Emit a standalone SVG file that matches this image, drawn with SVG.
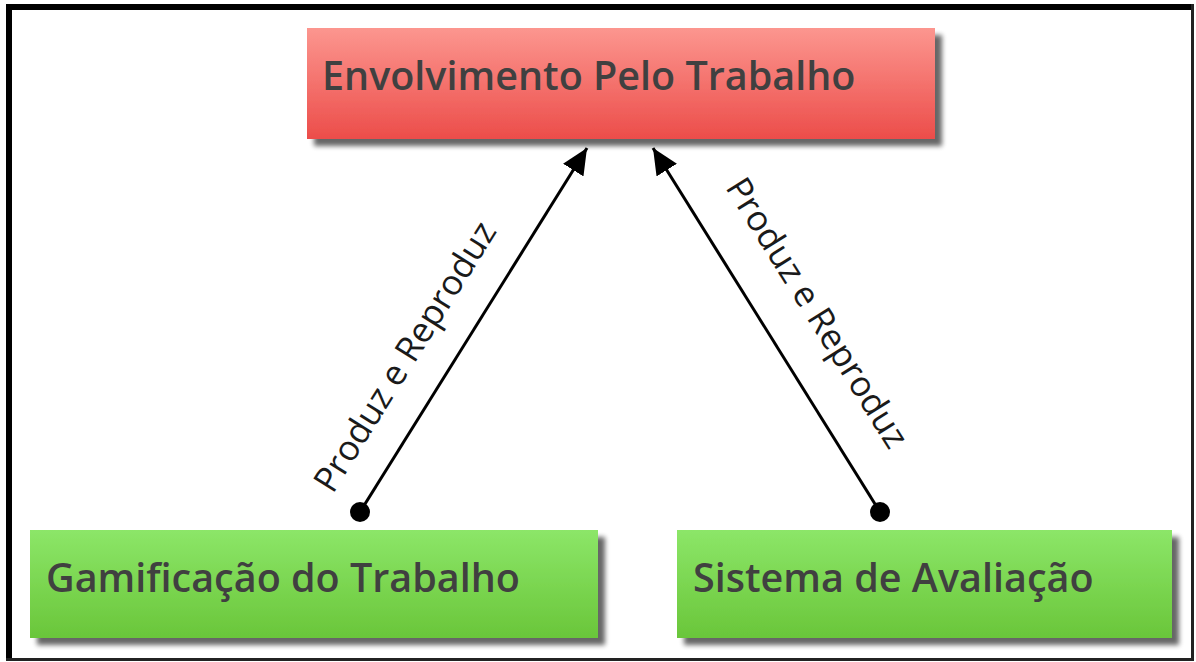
<svg xmlns="http://www.w3.org/2000/svg" width="1196" height="662" viewBox="0 0 1196 662">
<defs>
<linearGradient id="gRed" x1="0" y1="0" x2="0" y2="1"><stop offset="0" stop-color="#fc968f"/><stop offset="1" stop-color="#ec4d4a"/></linearGradient>
<linearGradient id="gGreen" x1="0" y1="0" x2="0" y2="1"><stop offset="0" stop-color="#8ce668"/><stop offset="1" stop-color="#6ac63a"/></linearGradient>
<filter id="sh" x="-5%" y="-10%" width="115%" height="130%"><feGaussianBlur in="SourceAlpha" stdDeviation="2.5"/><feOffset dx="7" dy="7"/><feComponentTransfer><feFuncA type="linear" slope="0.6"/></feComponentTransfer><feMerge><feMergeNode/><feMergeNode in="SourceGraphic"/></feMerge></filter>
<marker id="arrow" markerWidth="26" markerHeight="24" refX="26" refY="12" orient="auto" markerUnits="userSpaceOnUse"><path d="M0,0 L26,12 L0,24 z" fill="#000"/></marker>
<marker id="dot" markerWidth="22" markerHeight="22" refX="11" refY="11" markerUnits="userSpaceOnUse"><circle cx="11" cy="11" r="10" fill="#000"/></marker>
</defs>
<style>
.node text{font-family:"Open Sans","Noto Sans","DejaVu Sans",sans-serif;font-weight:600;font-size:39.5px;fill:#404040}
.lbl{font-family:"Open Sans","Noto Sans","DejaVu Sans",sans-serif;font-size:35px;fill:#1a1a1a}
.conn{stroke:#000;stroke-width:3;fill:none}
</style>
<rect x="0" y="0" width="1196" height="662" fill="#fff"/>
<g id="frame" fill="#000">
<rect x="6" y="4" width="1188" height="6"/>
<rect x="6" y="4" width="6" height="657"/>
<rect x="1191" y="4" width="3" height="657" fill="#222"/>
<rect x="6" y="658" width="1188" height="3" fill="#222"/>
</g>
<g id="n-envolvimento" class="node">
<rect x="307" y="28" width="628" height="111" fill="url(#gRed)" filter="url(#sh)"/>
<text x="322" y="90">Envolvimento Pelo Trabalho</text>
</g>
<g id="n-gamificacao" class="node">
<rect x="30" y="530" width="568" height="108" fill="url(#gGreen)" filter="url(#sh)"/>
<text x="46" y="592">Gamificação do Trabalho</text>
</g>
<g id="n-sistema" class="node">
<rect x="677" y="530" width="495" height="108" fill="url(#gGreen)" filter="url(#sh)"/>
<text x="693" y="592">Sistema de Avaliação</text>
</g>
<g id="connectors">
<line class="conn" x1="360" y1="512" x2="587" y2="148" marker-start="url(#dot)" marker-end="url(#arrow)"/>
<line class="conn" x1="880" y1="512" x2="653" y2="148" marker-start="url(#dot)" marker-end="url(#arrow)"/>
<text class="lbl" text-anchor="middle" transform="translate(415,363) rotate(-58)">Produz e Reproduz</text>
<text class="lbl" text-anchor="middle" transform="translate(807,319) rotate(58)">Produz e Reproduz</text>
</g>
</svg>
